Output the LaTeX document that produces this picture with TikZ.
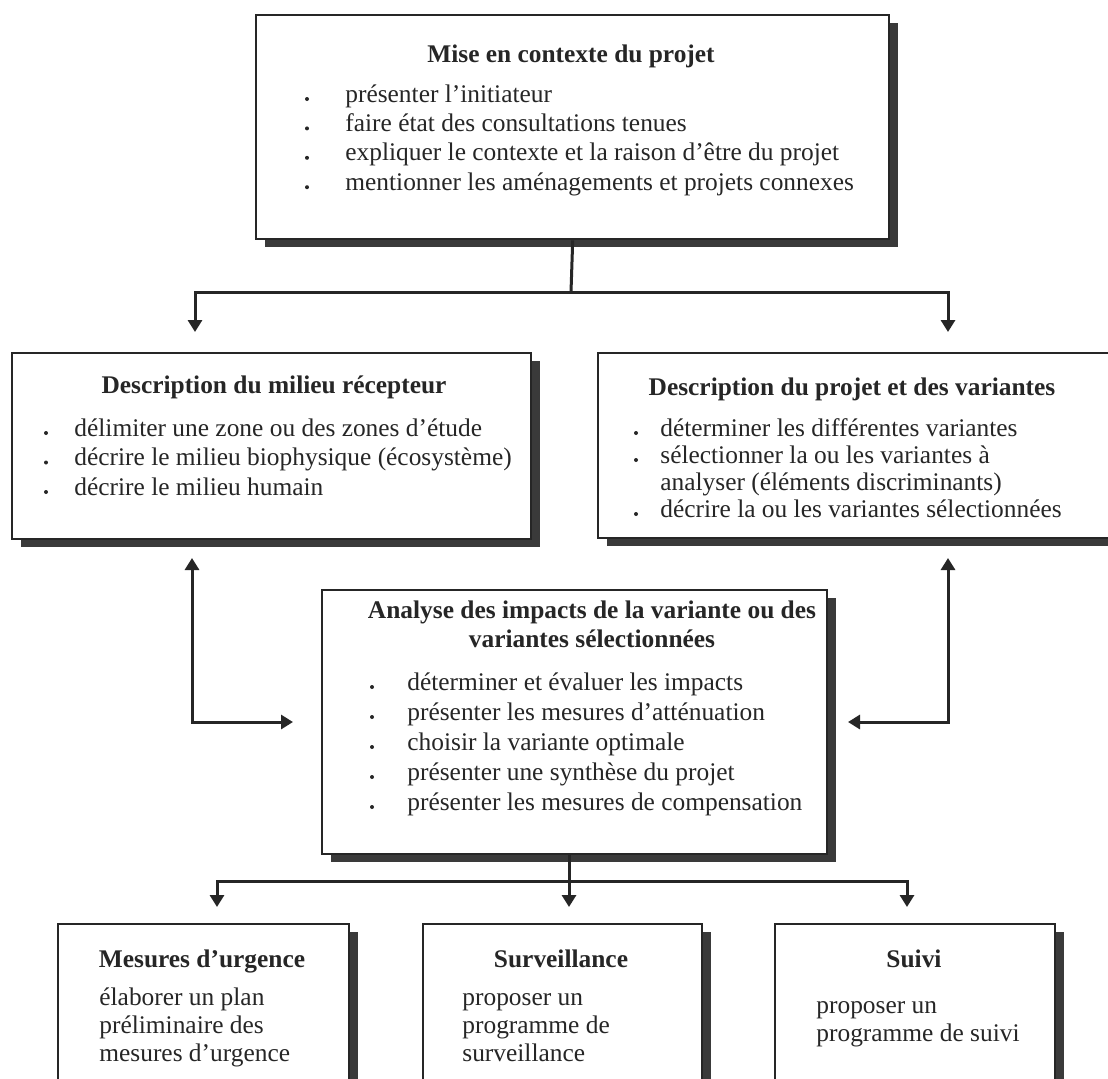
\documentclass[tikz,border=0pt]{standalone}
\usepackage{fontspec}
\setmainfont{Liberation Serif}
\usetikzlibrary{arrows.meta,shadows}
\definecolor{ink}{HTML}{262626}
\definecolor{shade}{HTML}{3A3A3A}
\begin{document}
\begin{tikzpicture}[x=0.5pt,y=-0.5pt,
  box/.style={draw=ink, line width=1.2pt, fill=white, anchor=north west, inner sep=0pt,
    general shadow={fill=shade, shadow xshift=4.25pt, shadow yshift=-3.75pt}},
  ttl/.style={font=\fontsize{12.7}{15}\selectfont\bfseries, text=ink, anchor=base, inner sep=0pt},
  itm/.style={font=\fontsize{12.7}{15}\selectfont, text=ink, anchor=base west, inner sep=0pt},
  bul/.style={circle, fill=ink, inner sep=0pt, minimum size=2pt},
  conn/.style={draw=ink, line width=1.5pt},
  arr/.style={conn, -{Triangle[width=7pt,length=6pt]}},
  arrtwo/.style={conn, {Triangle[width=7pt,length=6pt]}-{Triangle[width=7pt,length=6pt]}},
]
\fill[white] (0,0) rectangle (1108,1078);
\useasboundingbox (0,0) rectangle (1108,1078);

% ---------- top box
\node[box, minimum width=316.5pt, minimum height=112pt] (T) at (255,14) {};
\node[ttl] (Tt) at (571,62) {Mise en contexte du projet};
\foreach \s [count=\i] in {présenter l’initiateur, faire état des consultations tenues,
  expliquer le contexte et la raison d’être du projet, mentionner les aménagements et projets connexes}{
  \node[itm] (T\i) at (345,{102+29.4*(\i-1)}) {\s};
  \node[bul] (Tb\i) at (307,{99+29.4*(\i-1)}) {};
}

% ---------- left middle box
\node[box, minimum width=259.5pt, minimum height=93pt] (L) at (11,352) {};
\node[ttl] (Lt) at (274,393) {Description du milieu récepteur};
\foreach \s [count=\i] in {délimiter une zone ou des zones d’étude,
  décrire le milieu biophysique (écosystème), décrire le milieu humain}{
  \node[itm] (L\i) at (74,{436+29.5*(\i-1)}) {\s};
  \node[bul] (Lb\i) at (46,{433+29.5*(\i-1)}) {};
}

% ---------- right middle box
\node[box, minimum width=257.5pt, minimum height=92.5pt] (R) at (597,352) {};
\node[ttl] (Rt) at (852,395) {Description du projet et des variantes};
\node[itm] (R1) at (660,436) {déterminer les différentes variantes};
\node[itm] (R2) at (660,463) {sélectionner la ou les variantes à};
\node[itm] (R3) at (660,490) {analyser (éléments discriminants)};
\node[itm] (R4) at (660,517) {décrire la ou les variantes sélectionnées};
\node[bul] (Rb1) at (636,433) {};
\node[bul] (Rb2) at (636,460) {};
\node[bul] (Rb4) at (636,514) {};

% ---------- centre box
\node[box, minimum width=252.5pt, minimum height=132pt] (C) at (321,589) {};
\node[ttl] (Ct1) at (592,618) {Analyse des impacts de la variante ou des};
\node[ttl] (Ct2) at (592,647) {variantes sélectionnées};
\foreach \s [count=\i] in {déterminer et évaluer les impacts, présenter les mesures d’atténuation,
  choisir la variante optimale, présenter une synthèse du projet, présenter les mesures de compensation}{
  \node[itm] (C\i) at (407,{690+30*(\i-1)}) {\s};
  \node[bul] (Cb\i) at (372,{687+30*(\i-1)}) {};
}

% ---------- bottom boxes
\node[box, minimum width=145.5pt, minimum height=90pt] (M) at (57,923) {};
\node[ttl] (Mt) at (202,967) {Mesures d’urgence};
\node[itm] (M1) at (99,1005) {élaborer un plan};
\node[itm] (M2) at (99,1033) {préliminaire des};
\node[itm] (M3) at (99,1061) {mesures d’urgence};

\node[box, minimum width=139.5pt, minimum height=90pt] (S) at (422,923) {};
\node[ttl] (St) at (561,967) {Surveillance};
\node[itm] (S1) at (462,1005) {proposer un};
\node[itm] (S2) at (462,1033) {programme de};
\node[itm] (S3) at (462,1061) {surveillance};

\node[box, minimum width=140pt, minimum height=90pt] (V) at (774,923) {};
\node[ttl] (Vt) at (914,967) {Suivi};
\node[itm] (V1) at (816,1013) {proposer un};
\node[itm] (V2) at (816,1041) {programme de suivi};

% ---------- connectors
\coordinate (j1) at (571,292);
\coordinate (aL) at (195,332);
\coordinate (aR) at (948,332);
\draw[conn] (T.south) -- (j1);
\draw[arr] (j1) -| (aL);
\draw[arr] (j1) -| (aR);

\coordinate (uL) at (192,558);
\coordinate (hL) at (293,722);
\coordinate (uR) at (948,558);
\coordinate (hR) at (848,722);
\draw[arrtwo] (uL) |- (hL);
\draw[arrtwo] (uR) |- (hR);

\coordinate (j2) at (569,881);
\coordinate (aM) at (217,907);
\coordinate (aS) at (569,907);
\coordinate (aV) at (907,907);
\draw[conn] (C.south -| j2) -- (j2);
\draw[arr] (j2) -| (aM);
\draw[arr] (j2) -- (aS);
\draw[arr] (j2) -| (aV);
\end{tikzpicture}
\end{document}
